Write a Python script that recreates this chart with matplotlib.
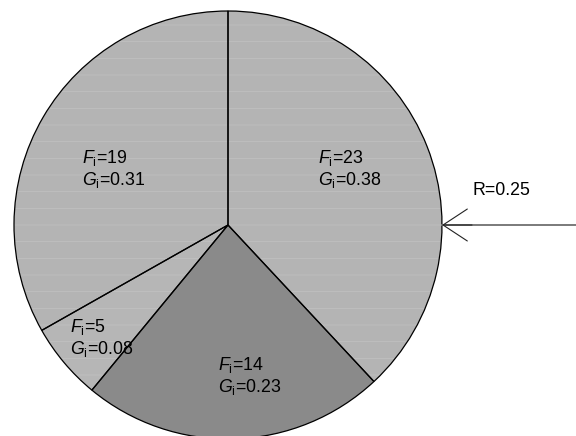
import matplotlib
matplotlib.use("Agg")
import matplotlib.pyplot as plt
import numpy as np

# ============================================================
# Data
# ============================================================

freq = [23, 14, 5, 19]                  # F_i, clockwise from 12 o'clock
share = [0.38, 0.23, 0.08, 0.31]        # G_i
wedge_deg = [137, 82.5, 21, 119.5]      # slice sizes as drawn (degrees)
slice_colors = ["#b4b4b4", "#8a8a8a", "#b6b6b6", "#b4b4b4"]
r_label = "R=0.25"

plt.rcParams["font.family"] = ["Liberation Sans", "DejaVu Sans"]
plt.rcParams["mathtext.fontset"] = "custom"
plt.rcParams["mathtext.rm"] = "Liberation Sans"
plt.rcParams["mathtext.it"] = "Liberation Sans:italic"
plt.rcParams["hatch.linewidth"] = 0.5

W, H = 576, 436
fig = plt.figure(figsize=(W / 100, H / 100), dpi=100, facecolor="white")
ax = fig.add_axes([0, 0, 1, 1])

cx, cy, rad = 228, H - 225, 214

# faintly streaked fill
wedges, _ = ax.pie(
    wedge_deg, colors=slice_colors, startangle=90, counterclock=False,
    center=(cx, cy), radius=rad,
    wedgeprops=dict(edgecolor="#c2c2c2", linewidth=0, hatch="-"),
)
wedges[1].set_hatch(None)

# outlines
ax.pie(
    wedge_deg, colors=["none"] * len(wedge_deg), startangle=90, counterclock=False,
    center=(cx, cy), radius=rad,
    wedgeprops=dict(edgecolor="black", linewidth=0.9, fill=False),
)

# slice labels (left edge, baseline in picture pixels)
label_pos = [(318, 163), (218, 370), (70, 332), (82, 163)]
for (lx, ly), f, g in zip(label_pos, freq, share):
    ax.text(lx, H - ly, r"$\mathit{F}_{\mathrm{i}}$" + f"={f}",
            fontsize=12.8, ha="left", va="baseline", color="black")
    ax.text(lx, H - ly - 22, r"$\mathit{G}_{\mathrm{i}}$" + f"={g:.2f}",
            fontsize=12.8, ha="left", va="baseline", color="black")

# incoming arrow on the right
ax.plot([cx + rad, W], [cy, cy], color="#7a7a7a", lw=1.4)
ax.annotate(
    "", xy=(cx + rad, cy), xytext=(cx + rad + 30, cy),
    arrowprops=dict(arrowstyle="->, head_length=1.75, head_width=1.15",
                    color="#222222", lw=0.8, shrinkA=0, shrinkB=0,
                    mutation_scale=10),
)
ax.text(473, H - 195, r_label, fontsize=12.8, ha="left", va="baseline",
        color="black")

ax.set_xlim(0, W)
ax.set_ylim(0, H)
ax.axis("off")

fig.savefig("out.png", dpi=100, facecolor="white")
